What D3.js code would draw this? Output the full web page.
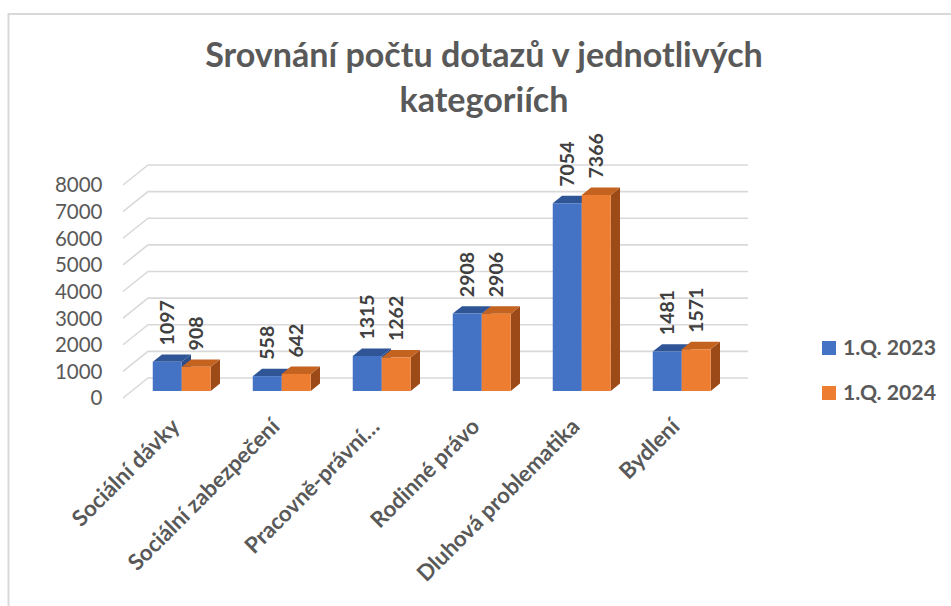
<!DOCTYPE html>
<html>
<head>
<meta charset="utf-8">
<script src="https://cdn.jsdelivr.net/npm/d3@7"></script>
<style>
  html, body { margin: 0; padding: 0; background: #fff; }
  svg { display: block; }
  text { font-family: Lato, "Noto Sans", sans-serif; }
</style>
</head>
<body>
<svg id="chart" width="951" height="606"></svg>
<script>
const categories = ["Sociální dávky", "Sociální zabezpečení", "Pracovně-právní…", "Rodinné právo", "Dluhová problematika", "Bydlení"];
const seriesNames = ["1.Q. 2023", "1.Q. 2024"];
const values2023 = [1097, 558, 1315, 2908, 7054, 1481];
const values2024 = [908, 642, 1262, 2906, 7366, 1571];
const yTicks = [0, 1000, 2000, 3000, 4000, 5000, 6000, 7000, 8000];
const titleLines = ["Srovnání počtu dotazů v jednotlivých", "kategoriích"];

const series = [
  { name: seriesNames[0], values: values2023, front: "#4472C4", top: "#2F5597", side: "#2B4D8A" },
  { name: seriesNames[1], values: values2024, front: "#ED7D31", top: "#C4621F", side: "#9C4A18" }
];

const svg = d3.select("#chart");

// chart border
svg.append("rect").attr("x", 8.5).attr("y", 14).attr("width", 960).attr("height", 620)
  .attr("fill", "none").attr("stroke", "#d9d9d9").attr("stroke-width", 2);

// 3D-ish projection
const DX = 25, DY = -20;
const y = d3.scaleLinear().domain([0, 8000]).range([398, 185]);
const x = d3.scaleBand().domain(categories).range([123, 723]);
const xs = d3.scaleBand().domain(seriesNames).range([0, 58]);
const P = (px, v, z) => [px + z * DX, y(v) + z * DY];

// gridlines
const grid = svg.append("g").attr("stroke", "#d9d9d9").attr("stroke-width", 1.6).attr("fill", "none");
yTicks.forEach(v => {
  const a = P(123, v, 0), b = P(123, v, 1), c = P(723, v, 1);
  grid.append("path").attr("d", `M${a[0]},${a[1]}L${b[0]},${b[1]}L${c[0]},${c[1]}`);
});

// y labels
svg.append("g").selectAll("text").data(yTicks).join("text")
  .attr("x", 102.5).attr("y", d => y(d)).attr("dy", "0.36em")
  .attr("text-anchor", "end").attr("fill", "#595959").attr("font-size", 20.5)
  .text(d => d);

// bars
const z0 = 0.35, z1 = 0.72;
const poly = pts => "M" + pts.map(p => p.join(",")).join("L") + "Z";
const barsG = svg.append("g");
categories.forEach((cat, i) => {
  series.forEach(s => {
    const v = s.values[i];
    const x0 = x(cat) + (x.step() - 58) / 2 + xs(s.name);
    const x1 = x0 + xs.bandwidth();
    const g = barsG.append("g");
    g.append("path").attr("fill", s.side)
      .attr("d", poly([P(x1, 0, z0), P(x1, v, z0), P(x1, v, z1), P(x1, 0, z1)]));
    g.append("path").attr("fill", s.top)
      .attr("d", poly([P(x0, v, z0), P(x1, v, z0), P(x1, v, z1), P(x0, v, z1)]));
    g.append("path").attr("fill", s.front)
      .attr("d", poly([P(x0, 0, z0), P(x0, v, z0), P(x1, v, z0), P(x1, 0, z0)]));
  });
});

// data labels
const lblG = svg.append("g");
categories.forEach((cat, i) => {
  series.forEach(s => {
    const v = s.values[i];
    const x0 = x(cat) + (x.step() - 58) / 2 + xs(s.name);
    const cx = x0 + xs.bandwidth() / 2 + z0 * DX;
    const ty = P(x0, v, z1)[1] - 9;
    lblG.append("text")
      .attr("transform", `translate(${cx + 7},${ty}) rotate(-90)`)
      .attr("text-anchor", "start").attr("font-weight", "bold")
      .attr("font-size", 19.5).attr("fill", "#404040")
      .text(v);
  });
});

// category labels
const catG = svg.append("g");
const probe = catG.append("text").attr("font-weight", "bold").attr("font-size", 20).text(categories[0]);
const catSize = 20 * 141 / probe.node().getComputedTextLength();
probe.remove();
categories.forEach(cat => {
  const cx = x(cat) + x.step() / 2;
  catG.append("text")
    .attr("transform", `translate(${cx + 8},${428}) rotate(-45)`)
    .attr("text-anchor", "end").attr("font-weight", "bold")
    .attr("font-size", catSize).attr("fill", "#595959")
    .text(cat);
});

// title
const titleG = svg.append("g");
const t1 = titleG.append("text").attr("font-weight", "bold").attr("font-size", 30).text(titleLines[0]);
const titleSize = 30 * 558 / t1.node().getComputedTextLength();
t1.remove();
titleLines.forEach((line, i) => {
  titleG.append("text")
    .attr("x", 484).attr("y", 67 + i * 45)
    .attr("text-anchor", "middle").attr("font-weight", "bold")
    .attr("font-size", titleSize).attr("fill", "#595959")
    .text(line);
});

// legend
const legG = svg.append("g");
const lp = legG.append("text").attr("font-weight", "bold").attr("font-size", 18).text(seriesNames[0]);
const legSize = 18 * 93 / lp.node().getComputedTextLength();
lp.remove();
series.forEach((s, i) => {
  const yy = 341 + i * 45;
  legG.append("rect").attr("x", 822).attr("y", yy).attr("width", 14).attr("height", 14).attr("fill", s.front);
  legG.append("text").attr("x", 843).attr("y", yy + 14)
    .attr("font-weight", "bold").attr("font-size", legSize).attr("fill", "#595959")
    .text(s.name);
});
</script>
</body>
</html>
